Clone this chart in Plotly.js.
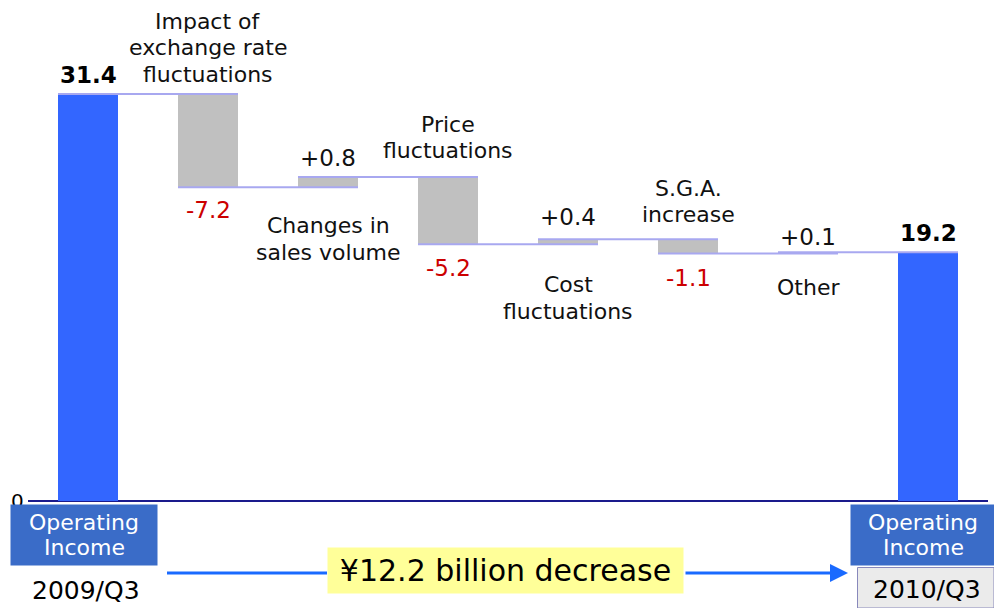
<!DOCTYPE html>
<html><head><meta charset="utf-8">
<script src="https://cdn.plot.ly/plotly-3.0.1.min.js"></script>
<style>html,body{margin:0;padding:0;background:#fff;}#chart{width:994px;height:608px;}</style>
</head><body><div id="chart"></div>
<script>
// ---- data ----
const startLabel = '2009/Q3';
const endLabel = '2010/Q3';
const startValue = 31.4;
const endValue = 19.2;
const deltaNames = ['Impact of<br>exchange rate<br>fluctuations','Changes in<br>sales volume','Price<br>fluctuations','Cost<br>fluctuations','S.G.A.<br>increase','Other'];
const deltaValues = [-7.2, 0.8, -5.2, 0.4, -1.1, 0.1];
const deltaText = ['-7.2','+0.8','-5.2','+0.4','-1.1','+0.1'];
const totalText = ['31.4','19.2'];
const totalName = 'Operating<br>Income';
const summaryText = '¥12.2 billion decrease';
const yTickText = '0';

// ---- build ----
const n = deltaValues.length + 2;
const xs = [], bases = [], heights = [], colors = [], tops = [], bottoms = [];
xs.push(0); bases.push(0); heights.push(startValue); colors.push('#3366ff'); tops.push(startValue); bottoms.push(0);
let level = startValue;
const levelsAfter = [startValue];
deltaValues.forEach((d, i) => {
  const next = level + d;
  xs.push(i + 1);
  bases.push(Math.min(level, next));
  heights.push(Math.abs(d));
  colors.push('#c0c0c0');
  tops.push(Math.max(level, next));
  bottoms.push(Math.min(level, next));
  level = next;
  levelsAfter.push(next);
});
xs.push(n - 1); bases.push(0); heights.push(endValue); colors.push('#3366ff'); tops.push(endValue); bottoms.push(0);

const traces = [{
  type: 'bar', x: xs, y: heights, base: bases, width: 0.5,
  marker: {color: colors, line: {width: 0}}, hoverinfo: 'skip', showlegend: false
}];
// connectors: from left edge of bar i to right edge of bar i+1
for (let i = 0; i < n - 1; i++) {
  const lv = levelsAfter[i];
  traces.push({type: 'scatter', mode: 'lines', x: [i - 0.25, i + 1.25], y: [lv, lv],
    line: {color: '#a8a8f0', width: 2}, hoverinfo: 'skip', showlegend: false});
}

const FONT = 'DejaVu Sans, Verdana, sans-serif';
const ann = [];
// pixel -> paper helpers (plot area: x 28..988, y 10..501)
const px = v => (v - 28) / 960;
const py = v => (501 - v) / 491;

// y tick "0" (drawn first so the box covers its lower part)
ann.push({xref: 'paper', yref: 'paper', x: px(17), y: py(501), text: yTickText, showarrow: false, xanchor: 'center', yanchor: 'middle', font: {size: 20, color: '#000', family: FONT}});

// total value labels
ann.push({x: 0, y: startValue, yref: 'y', xref: 'x', text: '<b>' + totalText[0] + '</b>', showarrow: false, yanchor: 'middle', yshift: 19, font: {size: 23, color: '#000', family: FONT}});
ann.push({x: n - 1, y: endValue, yref: 'y', xref: 'x', text: '<b>' + totalText[1] + '</b>', showarrow: false, yanchor: 'middle', yshift: 19, font: {size: 23, color: '#000', family: FONT}});
// delta labels: offsets (px) for value label and category label block centre
const valShift = [23, 19, 24, 22, 25, 15];
const nameShift = [46, 51.5, 39.5, 53.5, 37.5, 34];
const LINE = 26.5;
function addLines(base, text, centreShift, font, lineH) {
  const lines = text.split('<br>');
  lines.forEach((t, k) => {
    const off = centreShift - (k - (lines.length - 1) / 2) * lineH;
    ann.push(Object.assign({}, base, {text: t, showarrow: false, yanchor: 'middle', yshift: off, font: font}));
  });
}
const nameFont = {size: 22, color: '#111', family: FONT};
deltaValues.forEach((d, i) => {
  const x = i + 1;
  const top = tops[x], bot = bottoms[x];
  if (d < 0) {
    ann.push({x, y: bot, xref: 'x', yref: 'y', text: deltaText[i], showarrow: false, yanchor: 'middle', yshift: -valShift[i], font: {size: 23, color: '#cc0000', family: FONT}});
    addLines({x, y: top, xref: 'x', yref: 'y'}, deltaNames[i], nameShift[i], nameFont, LINE);
  } else {
    ann.push({x, y: top, xref: 'x', yref: 'y', text: deltaText[i], showarrow: false, yanchor: 'middle', yshift: valShift[i], font: {size: 23, color: '#111', family: FONT}});
    addLines({x, y: bot, xref: 'x', yref: 'y'}, deltaNames[i], -nameShift[i], nameFont, LINE);
  }
});

// blue boxes as annotation backgrounds (cover lower part of "0")
const boxAnn = (cx, cy, w, h, fill) => ({xref: 'paper', yref: 'paper', x: px(cx), y: py(cy), text: ' ', showarrow: false, width: w, height: h, bgcolor: fill, borderpad: 0, xanchor: 'center', yanchor: 'middle', font: {size: 10}});
ann.push(boxAnn(84, 535, 146, 60, '#3a6cc8'));
ann.push(boxAnn(922.5, 535, 143, 60, '#3a6cc8'));

const boxFont = {size: 22, color: '#fff', family: FONT};
addLines({xref: 'paper', yref: 'paper', x: px(84), y: py(535), xanchor: 'center'}, totalName, 0, boxFont, 25);
addLines({xref: 'paper', yref: 'paper', x: px(923), y: py(535), xanchor: 'center'}, totalName, 0, boxFont, 25);
ann.push({xref: 'paper', yref: 'paper', x: px(86), y: py(590), text: startLabel, showarrow: false, font: {size: 25, color: '#000', family: FONT}, xanchor: 'center', yanchor: 'middle'});
ann.push({xref: 'paper', yref: 'paper', x: px(927), y: py(589), text: endLabel, showarrow: false, font: {size: 25, color: '#000', family: FONT}, xanchor: 'center', yanchor: 'middle'});
// arrow right part
ann.push({xref: 'paper', yref: 'paper', x: px(848), y: py(573), ax: -164, ay: 0, text: '', showarrow: true, arrowhead: 2, arrowsize: 1.2, arrowwidth: 3, arrowcolor: '#1a6aff'});
// summary box
ann.push({xref: 'paper', yref: 'paper', x: px(505.5), y: py(570.5), text: summaryText, showarrow: false, width: 353, height: 43, bgcolor: '#ffff99', borderpad: 1, font: {size: 30, color: '#000', family: FONT}, xanchor: 'center', yanchor: 'middle'});

const rect = (x0, x1, y0, y1, fill, line) => ({type: 'rect', xref: 'paper', yref: 'paper', x0: px(x0), x1: px(x1), y0: py(y0), y1: py(y1), fillcolor: fill, line: line || {width: 0}, layer: 'below'});
const shapes = [
  rect(857.5, 994, 567.5, 608, '#ebebeb', {color: '#8888bb', width: 1}),
  {type: 'line', xref: 'paper', yref: 'paper', x0: px(167), x1: px(327), y0: py(573), y1: py(573), line: {color: '#1a6aff', width: 3}}
];

const layout = {
  width: 994, height: 608,
  margin: {l: 28, r: 6, t: 10, b: 107},
  paper_bgcolor: '#fff', plot_bgcolor: 'rgba(0,0,0,0)',
  xaxis: {range: [-0.5, 7.5], showticklabels: false, showgrid: false, zeroline: false, showline: false, ticks: ''},
  yaxis: {range: [0, 37.88], showticklabels: false, showgrid: false, zeroline: true, zerolinecolor: '#1a1a8c', zerolinewidth: 2, showline: false, ticks: ''},
  annotations: ann, shapes: shapes, showlegend: false, bargap: 0
};
Plotly.newPlot('chart', traces, layout, {staticPlot: true, displayModeBar: false});
</script></body></html>
